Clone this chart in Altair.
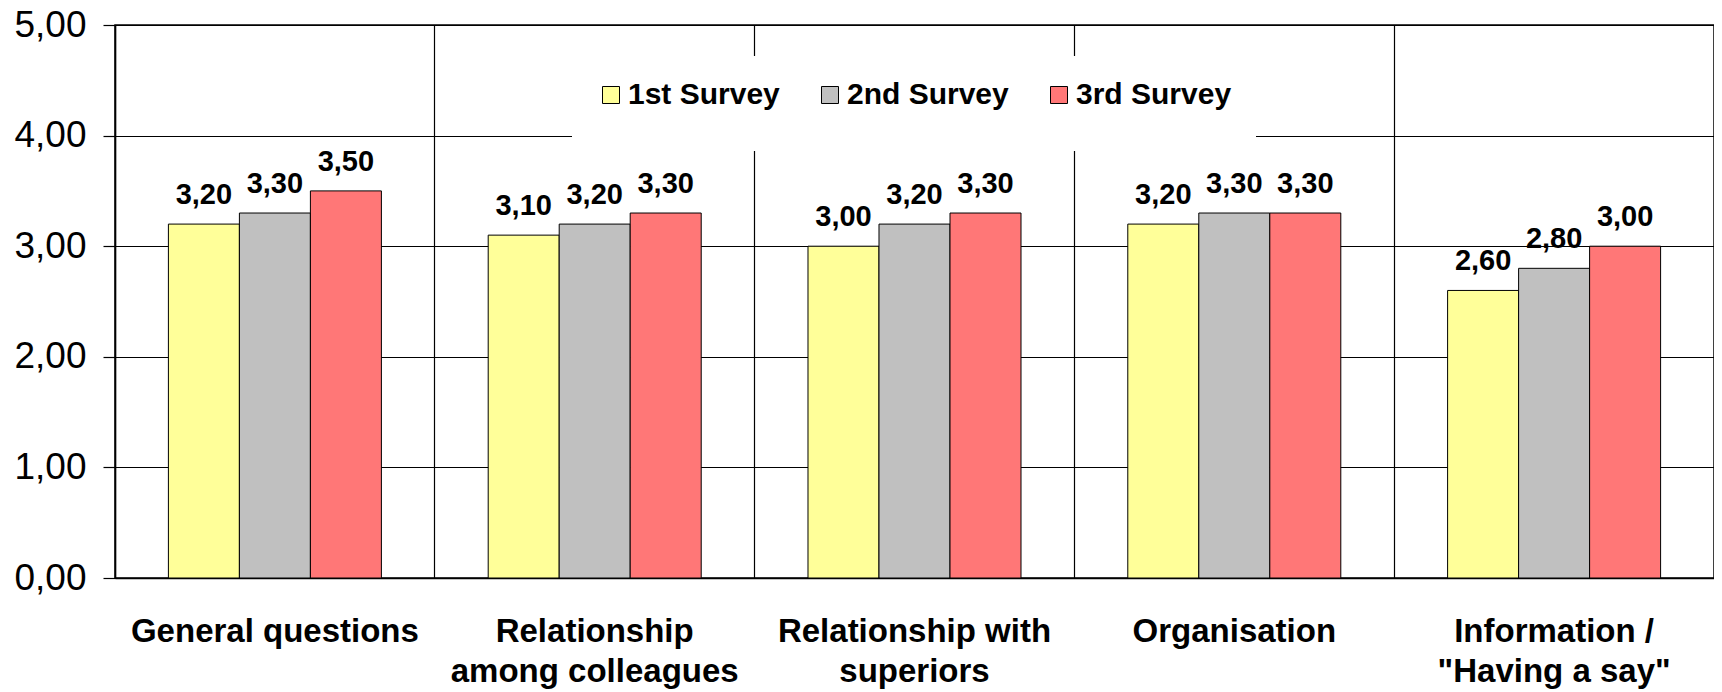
import altair as alt
import pandas as pd

categories = [
    "General questions",
    "Relationship\namong colleagues",
    "Relationship with\nsuperiors",
    "Organisation",
    "Information /\n\"Having a say\"",
]
series = ["1st Survey", "2nd Survey", "3rd Survey"]
survey1 = [3.20, 3.10, 3.00, 3.20, 2.60]
survey2 = [3.30, 3.20, 3.20, 3.30, 2.80]
survey3 = [3.50, 3.30, 3.30, 3.30, 3.00]
colors = ["#FFFF99", "#C0C0C0", "#FF7777"]
y_ticks = [0, 1, 2, 3, 4, 5]

rows = []
for s, vals in zip(series, [survey1, survey2, survey3]):
    for c, v in zip(categories, vals):
        rows.append({"category": c, "series": s, "value": v})
df = pd.DataFrame(rows)

FONT = "Liberation Sans"

base = alt.Chart(df).transform_calculate(
    label="replace(format(datum.value, '.2f'), '.', ',')"
).encode(
    x=alt.X(
        "category:N",
        sort=categories,
        scale=alt.Scale(paddingInner=0, paddingOuter=0),
        axis=alt.Axis(
            title=None,
            labelAngle=0,
            grid=True,
            bandPosition=0,
            gridColor="black",
            gridWidth=1.2,
            ticks=False,
            domainColor="black",
            domainWidth=1.5,
            labelFont=FONT,
            labelFontSize=33,
            labelFontWeight="bold",
            labelColor="black",
            labelPadding=37,
            labelLineHeight=40,
            labelBaseline="top",
            labelLimit=0,
            labelExpr="split(datum.label, '\\n')",
        ),
    ),
    xOffset=alt.XOffset(
        "series:N", sort=series, scale=alt.Scale(paddingOuter=0.752, paddingInner=0)
    ),
    y=alt.Y(
        "value:Q",
        scale=alt.Scale(domain=[0, 5], nice=False),
        axis=alt.Axis(
            title=None,
            values=y_ticks,
            labelExpr="replace(format(datum.value, '.2f'), '.', ',')",
            labelFont=FONT,
            labelFontSize=37,
            labelColor="black",
            labelPadding=17,
            tickSize=12,
            tickColor="black",
            tickWidth=1.2,
            gridColor="black",
            gridWidth=1.2,
            domainColor="black",
            domainWidth=1.5,
        ),
    ),
)

bars = base.mark_bar(stroke="black", strokeWidth=1).encode(
    color=alt.Color(
        "series:N",
        sort=series,
        scale=alt.Scale(domain=series, range=colors),
        legend=alt.Legend(
            title=" ",
            titleOrient="bottom",
            titleFontSize=12,
            titlePadding=6,
            orient="none",
            direction="horizontal",
            legendX=457,
            legendY=31,
            padding=24,
            fillColor="white",
            columnPadding=35,
            symbolType="square",
            symbolSize=289,
            symbolStrokeColor="black",
            symbolStrokeWidth=1,
            labelFont=FONT,
            labelFontSize=30,
            labelFontWeight="bold",
            labelColor="black",
            labelOffset=2,
            labelLimit=0,
        ),
    )
)

text = base.mark_text(
    baseline="alphabetic",
    dy=-20,
    font=FONT,
    fontSize=29,
    fontWeight="bold",
    color="black",
).encode(text="label:N")

chart = (
    alt.layer(bars, text)
    .properties(
        width=1599,
        height=553,
        padding={"left": 107, "top": 17, "right": 0, "bottom": 113},
        autosize=alt.AutoSizeParams(type="none"),
    )
    .configure_view(stroke="black", strokeWidth=1.5)
)

chart.save("out.html", embed_options={"renderer": "svg", "actions": False})
